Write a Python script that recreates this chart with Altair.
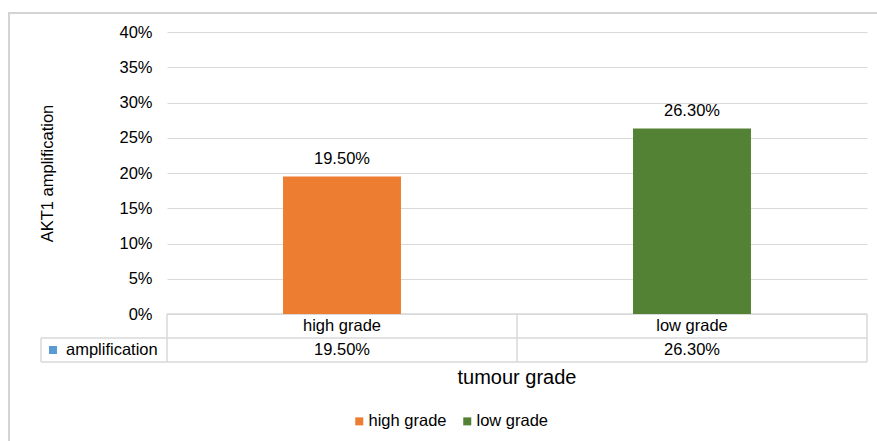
import altair as alt
import pandas as pd

categories = ["high grade", "low grade"]
values = [0.195, 0.263]
value_labels = ["19.50%", "26.30%"]
colors = ["#ED7D31", "#548235"]
series_name = "amplification"
y_title = "AKT1 amplification"
x_title = "tumour grade"
y_ticks = [0, 0.05, 0.1, 0.15, 0.2, 0.25, 0.3, 0.35, 0.4]

df = pd.DataFrame({"grade": categories, "value": values, "label": value_labels})

FONT = "Liberation Sans"
FS = 16.5
GRID = "#d9d9d9"
W, H = 700, 282

xenc = alt.X("grade:N", sort=categories, axis=None,
             scale=alt.Scale(paddingInner=0, paddingOuter=0))
yenc = alt.Y("value:Q", scale=alt.Scale(domain=[0, 0.4]),
             axis=alt.Axis(format=".0%", values=y_ticks, labelOverlap=False,
                           title=y_title, titleFont=FONT, titleFontSize=FS,
                           titleFontWeight="normal", titleColor="black",
                           titleAngle=-90, titleX=-120, titleY=H / 2,
                           titleAlign="center", titleBaseline="middle",
                           labelFont=FONT, labelFontSize=FS, labelColor="black",
                           labelPadding=15, domain=False, ticks=False,
                           grid=True, gridColor=GRID, gridWidth=1))

base = alt.Chart(df)

bars = base.mark_bar(width=alt.RelativeBandSize(0.337)).encode(
    x=xenc, y=yenc,
    color=alt.Color("grade:N", sort=categories,
                    scale=alt.Scale(domain=categories, range=colors),
                    legend=alt.Legend(title=None, orient="none", direction="horizontal",
                                      legendX=184, legendY=381, symbolType="square",
                                      symbolSize=64, symbolStrokeWidth=0,
                                      labelFont=FONT, labelFontSize=FS,
                                      labelColor="black", columnPadding=12,
                                      labelOffset=1)),
)

bar_labels = base.mark_text(font=FONT, fontSize=FS, baseline="bottom", dy=-10,
                            color="black").encode(x=xenc, y=yenc, text="label:N")

cat_text = base.mark_text(font=FONT, fontSize=FS, baseline="middle",
                          color="black").encode(x=xenc, y=alt.value(294), text="grade:N")
val_text = base.mark_text(font=FONT, fontSize=FS, baseline="middle",
                          color="black").encode(x=xenc, y=alt.value(318), text="label:N")

one = alt.Chart(pd.DataFrame({"k": [0]}))

series_lbl = one.mark_text(font=FONT, fontSize=FS, align="left", baseline="middle",
                           color="black").encode(x=alt.value(-101), y=alt.value(318),
                                                 text=alt.value(series_name))
series_sym = one.mark_point(shape="square", filled=True, size=64, color="#5B9BD5",
                            opacity=1).encode(x=alt.value(-114), y=alt.value(318))

xtitle = one.mark_text(font=FONT, fontSize=20, baseline="middle", color="black").encode(
    x=alt.value(W / 2), y=alt.value(346), text=alt.value(x_title))


def hline(x1, x2, y):
    return one.mark_rule(color=GRID, strokeWidth=1.5).encode(
        x=alt.value(x1), x2=alt.value(x2), y=alt.value(y))


def vline(x, y1, y2):
    return one.mark_rule(color=GRID, strokeWidth=1.5).encode(
        x=alt.value(x), y=alt.value(y1), y2=alt.value(y2))


table_lines = [
    hline(0, W, H),
    hline(-126, W, 306),
    hline(-126, W, 330),
    vline(-126, 306, 330),
    vline(0, H, 330),
    vline(W / 2, H, 330),
    vline(W, H, 330),
]

frame = one.mark_rect(fill=None, stroke="#d4d4d4", strokeWidth=2).encode(
    x=alt.value(-158), y=alt.value(-19), x2=alt.value(W + 20), y2=alt.value(H + 140))

chart = alt.layer(
    frame, *table_lines, bars, bar_labels, cat_text, val_text, series_sym, series_lbl, xtitle
).properties(
    width=W, height=H,
    autosize=alt.AutoSizeParams(type="none"),
    padding={"left": 167, "top": 32, "right": 10, "bottom": 127},
    background="white",
).configure_view(stroke=None)

chart.save("out.html", embed_options={"renderer": "svg", "actions": False})
